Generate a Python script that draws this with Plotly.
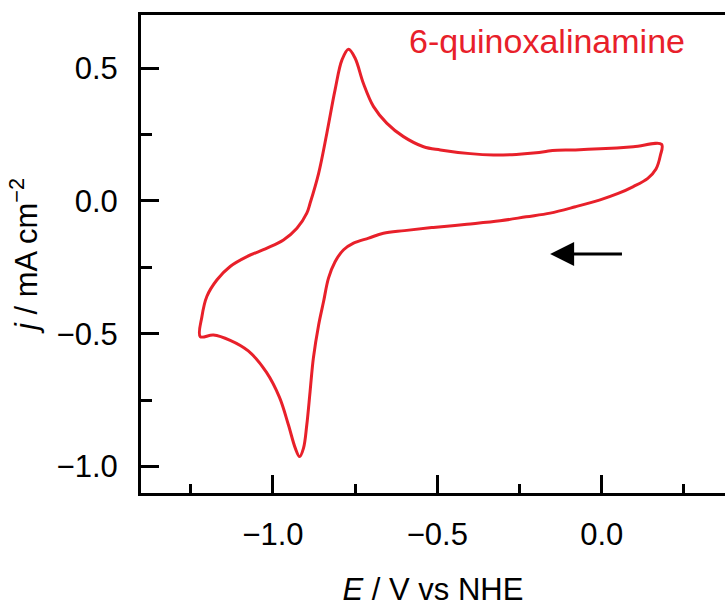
import plotly.graph_objects as go

# Cyclic voltammogram of 6-quinoxalinamine: potential (V vs NHE) and current density (mA cm^-2)
# Scan starts at the positive vertex and runs cathodically, then returns anodically.
potential_v = [
    # cathodic sweep
    0.182, 0.178, 0.165, 0.140, 0.096, 0.050, -0.005, -0.080, -0.157, -0.230,
    -0.309, -0.410, -0.512, -0.600, -0.664, -0.709, -0.755, -0.785, -0.811,
    -0.831, -0.846, -0.861, -0.877, -0.887, -0.897, -0.907, -0.919, -0.932, -0.953,
    -0.980, -1.020, -1.075, -1.130, -1.181, -1.221,
    # anodic sweep
    -1.216, -1.201, -1.170, -1.130, -1.079, -1.018, -0.968, -0.927, -0.897, -0.887,
    -0.861, -0.836, -0.811, -0.790, -0.770, -0.750, -0.725, -0.694, -0.654, -0.603,
    -0.542, -0.491, -0.400, -0.329, -0.260, -0.208, -0.170, -0.150, -0.080, -0.005,
    0.096, 0.182,
]
current_density = [
    0.213, 0.170, 0.120, 0.085, 0.054, 0.028, 0.004, -0.022, -0.046, -0.060,
    -0.075, -0.088, -0.100, -0.112, -0.122, -0.140, -0.159, -0.184, -0.229,
    -0.291, -0.379, -0.467, -0.592, -0.718, -0.843, -0.931, -0.963, -0.931, -0.843,
    -0.740, -0.645, -0.565, -0.525, -0.505, -0.511,
    -0.436, -0.360, -0.297, -0.247, -0.210, -0.178, -0.147, -0.103, -0.046, -0.009,
    0.104, 0.255, 0.418, 0.531, 0.571, 0.537, 0.443, 0.355, 0.293, 0.242,
    0.204, 0.192, 0.178, 0.173, 0.175, 0.180, 0.186, 0.190, 0.192, 0.196,
    0.204, 0.213,
]

x_ticks = [-1.0, -0.5, 0.0]
y_ticks = [0.5, 0.0, -0.5, -1.0]

RED = "#e8202a"
FONT = "Liberation Sans, Arial, sans-serif"

fig = go.Figure()
fig.add_trace(go.Scatter(
    x=potential_v, y=current_density, mode="lines",
    line=dict(color=RED, width=3, shape="spline", smoothing=1.0),
    showlegend=False, hoverinfo="skip",
))

# Compound label
fig.add_annotation(
    x=-0.167, y=0.602, xref="x", yref="y", text="6-quinoxalinamine",
    showarrow=False, font=dict(family=FONT, size=34, color=RED),
    xanchor="center", yanchor="middle",
)

# Scan-direction arrow
fig.add_annotation(
    x=-0.157, y=-0.20, ax=0.066, ay=-0.20, xref="x", yref="y", axref="x", ayref="y",
    text="", showarrow=True, arrowhead=2, arrowsize=1.6, arrowwidth=3, arrowcolor="black",
)

axis_common = dict(
    showline=True, linecolor="black", linewidth=3,
    ticks="inside", tickwidth=3, ticklen=18, tickcolor="black",
    showgrid=False, zeroline=False,
    tickfont=dict(family=FONT, size=31, color="black"),
    tickformat=".1f",
)

fig.update_xaxes(
    **axis_common,
    range=[-1.4012, 0.3748], tickvals=x_ticks, mirror=True,
    minor=dict(dtick=0.25, tick0=0, ticks="inside", ticklen=9, tickwidth=3, tickcolor="black"),
    ticklabelstandoff=12,
    title=dict(text="<i>E</i> / V vs NHE", font=dict(family=FONT, size=31, color="black"), standoff=31),
)
fig.update_yaxes(
    **axis_common,
    range=[-1.10, 0.70], tickvals=y_ticks,
    minor=dict(dtick=0.25, tick0=0, ticks="inside", ticklen=11, tickwidth=3, tickcolor="black"),
    ticklabelstandoff=14,
    title=dict(text="<i>j</i> / mA cm<sup>−2</sup>", font=dict(family=FONT, size=31, color="black"), standoff=10),
)

fig.update_layout(
    width=725, height=607,
    margin=dict(l=141, r=0, t=15, b=114),
    paper_bgcolor="white", plot_bgcolor="white",
)

fig.write_html("out.html")
